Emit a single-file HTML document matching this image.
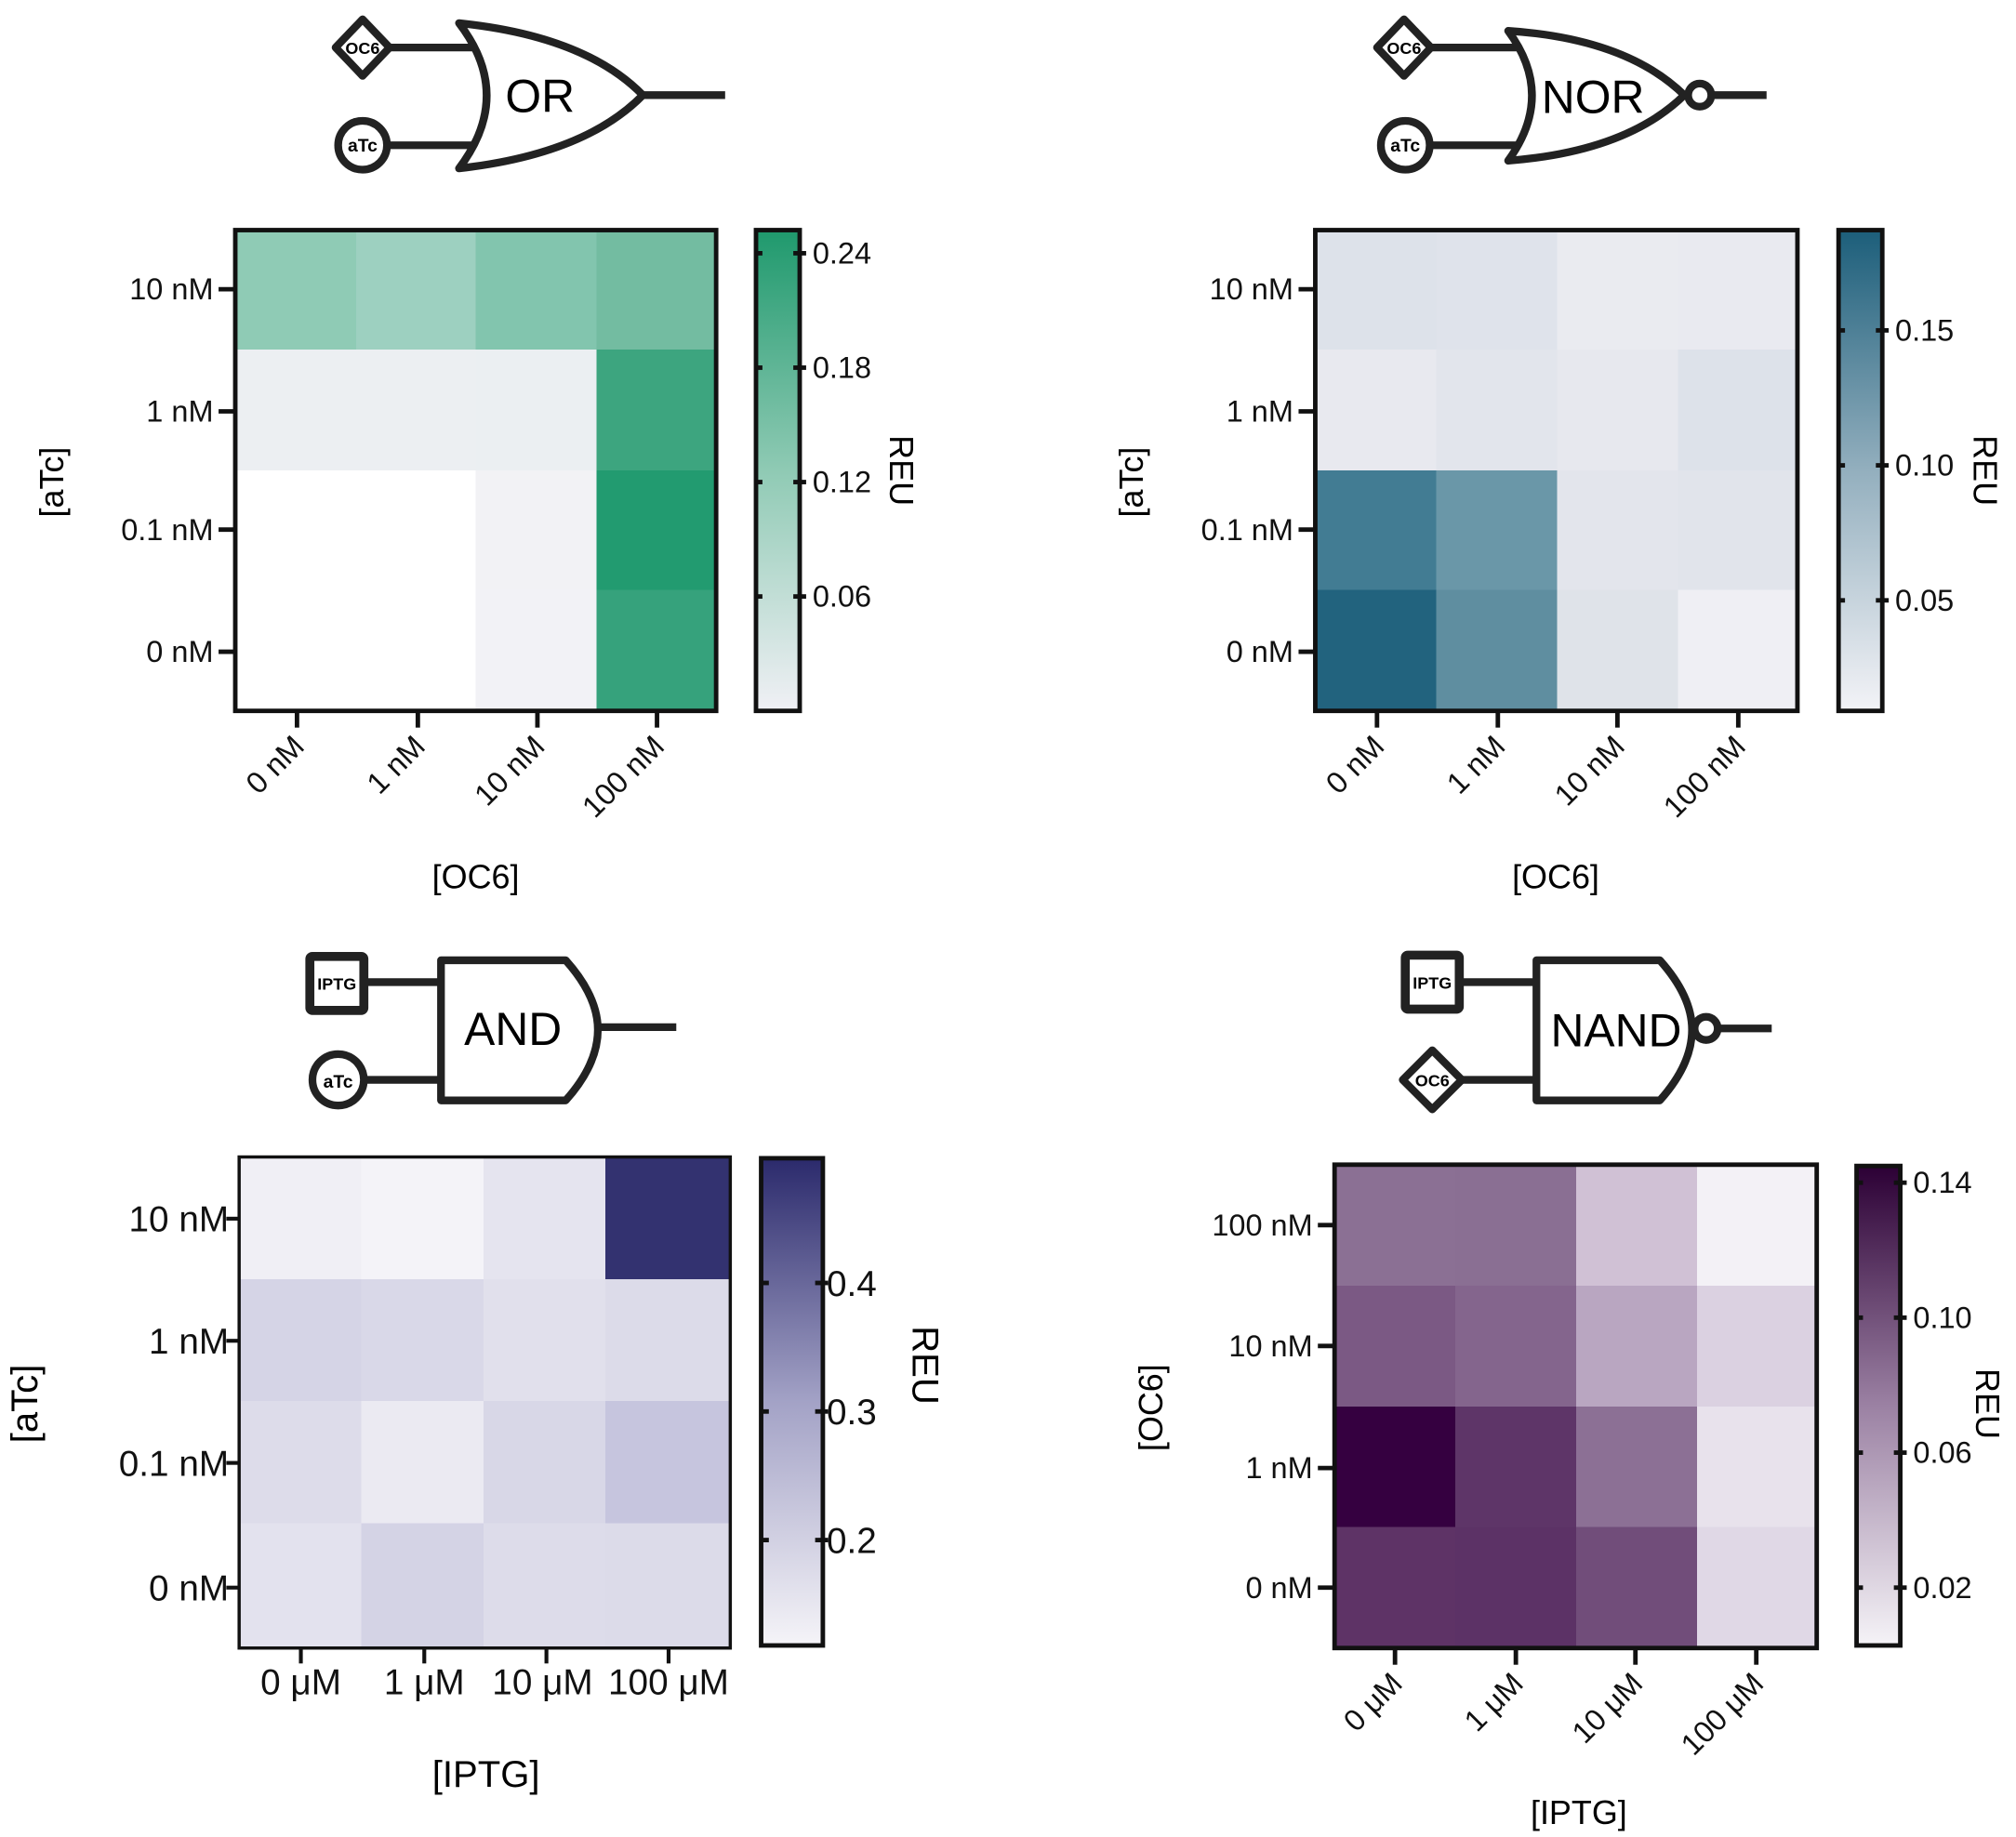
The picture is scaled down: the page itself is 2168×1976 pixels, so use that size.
<!DOCTYPE html>
<html><head><meta charset="utf-8"><style>html,body{margin:0;padding:0;background:#fff}svg{display:block}</style></head>
<body>
<svg width="2168" height="1976" viewBox="0 0 1568 1429" preserveAspectRatio="none" xmlns="http://www.w3.org/2000/svg" font-family="Liberation Sans, Arial, sans-serif">
<defs>
<linearGradient id="gOR" x1="0" y1="1" x2="0" y2="0"><stop offset="0" stop-color="#f0f0f5"/><stop offset="0.5" stop-color="#8fcab4"/><stop offset="1" stop-color="#1f996d"/></linearGradient>
<linearGradient id="gNOR" x1="0" y1="1" x2="0" y2="0"><stop offset="0" stop-color="#f3f3f7"/><stop offset="0.5" stop-color="#93afbe"/><stop offset="1" stop-color="#1c5e7a"/></linearGradient>
<linearGradient id="gAND" x1="0" y1="1" x2="0" y2="0"><stop offset="0" stop-color="#f5f4f8"/><stop offset="0.5" stop-color="#a3a2c6"/><stop offset="1" stop-color="#2b2a6c"/></linearGradient>
<linearGradient id="gNAND" x1="0" y1="1" x2="0" y2="0"><stop offset="0" stop-color="#f5f3f7"/><stop offset="0.5" stop-color="#9b81a3"/><stop offset="1" stop-color="#2c0035"/></linearGradient>
</defs>

<!-- ===== OR gate ===== -->
<g stroke="#222" stroke-width="6" fill="#fff" stroke-linejoin="round">
<line x1="300" y1="37" x2="372" y2="37"/><line x1="300" y1="113" x2="372" y2="113"/>
<path d="M357,18 Q400,74 357,131 Q455,120 500,74 Q455,28 357,18 Z"/>
<line x1="500" y1="74" x2="564" y2="74"/>
<path d="M282,15 L303,37 L282,59 L261,37 Z"/>
<circle cx="282" cy="113" r="19"/>
</g>
<text x="420" y="87" font-size="36" text-anchor="middle">OR</text>
<text x="282" y="42" font-size="13" font-weight="bold" text-anchor="middle">OC6</text>
<text x="282" y="118" font-size="14" font-weight="bold" text-anchor="middle">aTc</text>

<!-- OR heatmap -->
<g shape-rendering="crispEdges">
<rect x="183" y="179" width="94" height="94" fill="#8fcbb5"/><rect x="277" y="179" width="94" height="94" fill="#9dd0c0"/><rect x="370" y="179" width="94" height="94" fill="#82c5ae"/><rect x="464" y="179" width="94" height="94" fill="#73bca1"/>
<rect x="183" y="272" width="94" height="94" fill="#eceff2"/><rect x="277" y="272" width="94" height="94" fill="#eceff2"/><rect x="370" y="272" width="94" height="94" fill="#ebeff2"/><rect x="464" y="272" width="94" height="94" fill="#3da57f"/>
<rect x="183" y="366" width="94" height="94" fill="#ffffff"/><rect x="277" y="366" width="94" height="94" fill="#ffffff"/><rect x="370" y="366" width="94" height="94" fill="#f2f2f5"/><rect x="464" y="366" width="94" height="94" fill="#229b70"/>
<rect x="183" y="459" width="94" height="94" fill="#ffffff"/><rect x="277" y="459" width="94" height="94" fill="#ffffff"/><rect x="370" y="459" width="94" height="94" fill="#f2f2f6"/><rect x="464" y="459" width="94" height="94" fill="#36a27c"/>
</g>
<rect x="183" y="179" width="374" height="374" fill="none" stroke="#111" stroke-width="3.5"/>
<g stroke="#111" stroke-width="3.5">
<line x1="170" y1="225" x2="183" y2="225"/><line x1="170" y1="320" x2="183" y2="320"/><line x1="170" y1="412" x2="183" y2="412"/><line x1="170" y1="507" x2="183" y2="507"/>
<line x1="231" y1="553" x2="231" y2="566"/><line x1="325" y1="553" x2="325" y2="566"/><line x1="418" y1="553" x2="418" y2="566"/><line x1="511" y1="553" x2="511" y2="566"/>
</g>
<g font-size="23.5" text-anchor="end" fill="#111">
<text x="166" y="233">10 nM</text><text x="166" y="328">1 nM</text><text x="166" y="420">0.1 nM</text><text x="166" y="515">0 nM</text>
<text transform="translate(238,582) rotate(-45)">0 nM</text><text transform="translate(332,582) rotate(-45)">1 nM</text><text transform="translate(425,582) rotate(-45)">10 nM</text><text transform="translate(518,582) rotate(-45)">100 nM</text>
</g>
<text x="370" y="691" font-size="26" text-anchor="middle">[OC6]</text>
<text transform="translate(49,375) rotate(-90)" font-size="26" text-anchor="middle">[aTc]</text>
<rect x="588" y="179" width="34" height="374" fill="url(#gOR)" stroke="#111" stroke-width="3.5"/>
<g stroke="#111" stroke-width="3.5"><line x1="588" y1="197" x2="593" y2="197"/><line x1="617" y1="197" x2="627" y2="197"/><line x1="588" y1="286" x2="593" y2="286"/><line x1="617" y1="286" x2="627" y2="286"/><line x1="588" y1="375" x2="593" y2="375"/><line x1="617" y1="375" x2="627" y2="375"/><line x1="588" y1="464" x2="593" y2="464"/><line x1="617" y1="464" x2="627" y2="464"/></g>
<g font-size="23.5" fill="#111"><text x="632" y="205">0.24</text><text x="632" y="294">0.18</text><text x="632" y="383">0.12</text><text x="632" y="472">0.06</text></g>
<text transform="translate(692,366) rotate(90)" font-size="26" text-anchor="middle">REU</text>

<!-- ===== NOR gate ===== -->
<g stroke="#222" stroke-width="6" fill="#fff" stroke-linejoin="round">
<line x1="1110" y1="37" x2="1182" y2="37"/><line x1="1110" y1="113" x2="1182" y2="113"/>
<path d="M1173,24 Q1210,74 1173,125 Q1265,118 1310,74 Q1265,30 1173,24 Z"/>
<circle cx="1322" cy="74" r="9"/>
<line x1="1331" y1="74" x2="1374" y2="74"/>
<path d="M1092,15 L1113,37 L1092,59 L1071,37 Z"/>
<circle cx="1093" cy="113" r="19"/>
</g>
<text x="1239" y="88" font-size="36" text-anchor="middle">NOR</text>
<text x="1092" y="42" font-size="13" font-weight="bold" text-anchor="middle">OC6</text>
<text x="1093" y="118" font-size="14" font-weight="bold" text-anchor="middle">aTc</text>

<g shape-rendering="crispEdges">
<rect x="1023" y="179" width="95" height="94" fill="#dde2ea"/><rect x="1117" y="179" width="95" height="94" fill="#dfe3eb"/><rect x="1211" y="179" width="95" height="94" fill="#eaebf0"/><rect x="1305" y="179" width="94" height="94" fill="#e9eaf0"/>
<rect x="1023" y="272" width="95" height="94" fill="#e8e9ef"/><rect x="1117" y="272" width="95" height="94" fill="#e2e5ec"/><rect x="1211" y="272" width="95" height="94" fill="#e7e8ee"/><rect x="1305" y="272" width="94" height="94" fill="#dde2ea"/>
<rect x="1023" y="366" width="95" height="94" fill="#427c93"/><rect x="1117" y="366" width="95" height="94" fill="#6a97a8"/><rect x="1211" y="366" width="95" height="94" fill="#e3e5ec"/><rect x="1305" y="366" width="94" height="94" fill="#e1e4eb"/>
<rect x="1023" y="459" width="95" height="94" fill="#22637e"/><rect x="1117" y="459" width="95" height="94" fill="#5f8ea0"/><rect x="1211" y="459" width="95" height="94" fill="#dfe3e9"/><rect x="1305" y="459" width="94" height="94" fill="#efeff4"/>
</g>
<rect x="1023" y="179" width="375" height="374" fill="none" stroke="#111" stroke-width="3.5"/>
<g stroke="#111" stroke-width="3.5">
<line x1="1010" y1="225" x2="1023" y2="225"/><line x1="1010" y1="320" x2="1023" y2="320"/><line x1="1010" y1="412" x2="1023" y2="412"/><line x1="1010" y1="507" x2="1023" y2="507"/>
<line x1="1071" y1="553" x2="1071" y2="566"/><line x1="1165" y1="553" x2="1165" y2="566"/><line x1="1258" y1="553" x2="1258" y2="566"/><line x1="1352" y1="553" x2="1352" y2="566"/>
</g>
<g font-size="23.5" text-anchor="end" fill="#111">
<text x="1006" y="233">10 nM</text><text x="1006" y="328">1 nM</text><text x="1006" y="420">0.1 nM</text><text x="1006" y="515">0 nM</text>
<text transform="translate(1078,582) rotate(-45)">0 nM</text><text transform="translate(1172,582) rotate(-45)">1 nM</text><text transform="translate(1265,582) rotate(-45)">10 nM</text><text transform="translate(1359,582) rotate(-45)">100 nM</text>
</g>
<text x="1210" y="691" font-size="26" text-anchor="middle">[OC6]</text>
<text transform="translate(889,375) rotate(-90)" font-size="26" text-anchor="middle">[aTc]</text>
<rect x="1430" y="179" width="34" height="374" fill="url(#gNOR)" stroke="#111" stroke-width="3.5"/>
<g stroke="#111" stroke-width="3.5"><line x1="1430" y1="257" x2="1435" y2="257"/><line x1="1459" y1="257" x2="1469" y2="257"/><line x1="1430" y1="362" x2="1435" y2="362"/><line x1="1459" y1="362" x2="1469" y2="362"/><line x1="1430" y1="467" x2="1435" y2="467"/><line x1="1459" y1="467" x2="1469" y2="467"/></g>
<g font-size="23.5" fill="#111"><text x="1474" y="265">0.15</text><text x="1474" y="370">0.10</text><text x="1474" y="475">0.05</text></g>
<text transform="translate(1535,366) rotate(90)" font-size="26" text-anchor="middle">REU</text>

<!-- ===== AND gate ===== -->
<g stroke="#222" stroke-width="6" fill="#fff" stroke-linejoin="round">
<line x1="284" y1="764" x2="345" y2="764"/><line x1="284" y1="840" x2="345" y2="840"/>
<path d="M343,747 L440,747 Q465,775 465,801 Q465,828 440,856 L343,856 Z"/>
<line x1="465" y1="799" x2="526" y2="799"/>
<rect x="241" y="744" width="42" height="42" rx="2" stroke-width="7"/>
<circle cx="263" cy="840" r="20"/>
</g>
<text x="399" y="813" font-size="36" text-anchor="middle">AND</text>
<text x="262" y="770" font-size="13" font-weight="bold" text-anchor="middle">IPTG</text>
<text x="263" y="846" font-size="14" font-weight="bold" text-anchor="middle">aTc</text>

<g shape-rendering="crispEdges">
<rect x="186" y="900" width="96" height="96" fill="#f0eff5"/><rect x="281" y="900" width="96" height="96" fill="#f4f3f8"/><rect x="376" y="900" width="96" height="96" fill="#e5e4ef"/><rect x="471" y="900" width="97" height="96" fill="#333270"/>
<rect x="186" y="995" width="96" height="96" fill="#d5d4e6"/><rect x="281" y="995" width="96" height="96" fill="#d9d8e8"/><rect x="376" y="995" width="96" height="96" fill="#e1e0ec"/><rect x="471" y="995" width="97" height="96" fill="#dcdbe9"/>
<rect x="186" y="1090" width="96" height="96" fill="#dddcea"/><rect x="281" y="1090" width="96" height="96" fill="#ebeaf2"/><rect x="376" y="1090" width="96" height="96" fill="#d8d7e7"/><rect x="471" y="1090" width="97" height="96" fill="#c6c5de"/>
<rect x="186" y="1185" width="96" height="97" fill="#e3e2ee"/><rect x="281" y="1185" width="96" height="97" fill="#d4d3e5"/><rect x="376" y="1185" width="96" height="97" fill="#dddcea"/><rect x="471" y="1185" width="97" height="97" fill="#dcdbe9"/>
</g>
<rect x="186" y="900" width="382" height="382" fill="none" stroke="#111" stroke-width="2.5"/>
<g stroke="#111" stroke-width="3">
<line x1="176" y1="948" x2="186" y2="948"/><line x1="176" y1="1043" x2="186" y2="1043"/><line x1="176" y1="1138" x2="186" y2="1138"/><line x1="176" y1="1235" x2="186" y2="1235"/>
<line x1="234" y1="1282" x2="234" y2="1294"/><line x1="330" y1="1282" x2="330" y2="1294"/><line x1="425" y1="1282" x2="425" y2="1294"/><line x1="520" y1="1282" x2="520" y2="1294"/>
</g>
<g font-size="28" text-anchor="end" fill="#111">
<text x="178" y="958">10 nM</text><text x="178" y="1053">1 nM</text><text x="178" y="1148">0.1 nM</text><text x="178" y="1245">0 nM</text>
</g>
<g font-size="28" text-anchor="middle" fill="#111">
<text x="234" y="1318">0 μM</text><text x="330" y="1318">1 μM</text><text x="422" y="1318">10 μM</text><text x="520" y="1318">100 μM</text>
</g>
<text x="378" y="1390" font-size="29" text-anchor="middle">[IPTG]</text>
<text transform="translate(29,1092) rotate(-90)" font-size="29" text-anchor="middle">[aTc]</text>
<rect x="592" y="901" width="48" height="379" fill="url(#gAND)" stroke="#111" stroke-width="3.5"/>
<g stroke="#111" stroke-width="3.5"><line x1="592" y1="998" x2="598" y2="998"/><line x1="634" y1="998" x2="644" y2="998"/><line x1="592" y1="1098" x2="598" y2="1098"/><line x1="634" y1="1098" x2="644" y2="1098"/><line x1="592" y1="1198" x2="598" y2="1198"/><line x1="634" y1="1198" x2="644" y2="1198"/></g>
<g font-size="28" fill="#111"><text x="643" y="1008">0.4</text><text x="643" y="1108">0.3</text><text x="643" y="1208">0.2</text></g>
<text transform="translate(710,1062) rotate(90)" font-size="29" text-anchor="middle">REU</text>

<!-- ===== NAND gate ===== -->
<g stroke="#222" stroke-width="6" fill="#fff" stroke-linejoin="round">
<line x1="1136" y1="764" x2="1197" y2="764"/><line x1="1136" y1="840" x2="1197" y2="840"/>
<path d="M1195,747 L1291,747 Q1316,775 1316,801 Q1316,828 1291,856 L1195,856 Z"/>
<circle cx="1327" cy="800" r="9"/>
<line x1="1336" y1="800" x2="1378" y2="800"/>
<rect x="1093" y="743" width="42" height="42" rx="2" stroke-width="7"/>
<path d="M1114,817 L1137,840 L1114,863 L1091,840 Z"/>
</g>
<text x="1257" y="814" font-size="36" text-anchor="middle">NAND</text>
<text x="1114" y="769" font-size="13" font-weight="bold" text-anchor="middle">IPTG</text>
<text x="1114" y="845" font-size="13" font-weight="bold" text-anchor="middle">OC6</text>

<g shape-rendering="crispEdges">
<rect x="1038" y="906" width="95" height="95" fill="#8b7094"/><rect x="1132" y="906" width="95" height="95" fill="#8a6f93"/><rect x="1226" y="906" width="95" height="95" fill="#d0c1d5"/><rect x="1320" y="906" width="93" height="95" fill="#f3f1f6"/>
<rect x="1038" y="1000" width="95" height="95" fill="#7b5984"/><rect x="1132" y="1000" width="95" height="95" fill="#84658d"/><rect x="1226" y="1000" width="95" height="95" fill="#b9a6c1"/><rect x="1320" y="1000" width="93" height="95" fill="#dbd1e1"/>
<rect x="1038" y="1094" width="95" height="95" fill="#350040"/><rect x="1132" y="1094" width="95" height="95" fill="#5e3568"/><rect x="1226" y="1094" width="95" height="95" fill="#8c7095"/><rect x="1320" y="1094" width="93" height="95" fill="#e8e2ec"/>
<rect x="1038" y="1188" width="95" height="94" fill="#5e3366"/><rect x="1132" y="1188" width="95" height="94" fill="#5c3266"/><rect x="1226" y="1188" width="95" height="94" fill="#714d7a"/><rect x="1320" y="1188" width="93" height="94" fill="#e0d8e6"/>
</g>
<rect x="1038" y="906" width="375" height="376" fill="none" stroke="#111" stroke-width="3.5"/>
<g stroke="#111" stroke-width="3.5">
<line x1="1025" y1="953" x2="1038" y2="953"/><line x1="1025" y1="1047" x2="1038" y2="1047"/><line x1="1025" y1="1142" x2="1038" y2="1142"/><line x1="1025" y1="1235" x2="1038" y2="1235"/>
<line x1="1085" y1="1282" x2="1085" y2="1295"/><line x1="1179" y1="1282" x2="1179" y2="1295"/><line x1="1272" y1="1282" x2="1272" y2="1295"/><line x1="1366" y1="1282" x2="1366" y2="1295"/>
</g>
<g font-size="23.5" text-anchor="end" fill="#111">
<text x="1021" y="961">100 nM</text><text x="1021" y="1055">10 nM</text><text x="1021" y="1150">1 nM</text><text x="1021" y="1243">0 nM</text>
<text transform="translate(1092,1311) rotate(-45)">0 μM</text><text transform="translate(1186,1311) rotate(-45)">1 μM</text><text transform="translate(1279,1311) rotate(-45)">10 μM</text><text transform="translate(1373,1311) rotate(-45)">100 μM</text>
</g>
<text x="1228" y="1419" font-size="26" text-anchor="middle">[IPTG]</text>
<text transform="translate(904,1095) rotate(-90)" font-size="26" text-anchor="middle">[OC6]</text>
<rect x="1444" y="907" width="34" height="373" fill="url(#gNAND)" stroke="#111" stroke-width="3.5"/>
<g stroke="#111" stroke-width="3.5"><line x1="1444" y1="920" x2="1449" y2="920"/><line x1="1473" y1="920" x2="1483" y2="920"/><line x1="1444" y1="1025" x2="1449" y2="1025"/><line x1="1473" y1="1025" x2="1483" y2="1025"/><line x1="1444" y1="1130" x2="1449" y2="1130"/><line x1="1473" y1="1130" x2="1483" y2="1130"/><line x1="1444" y1="1235" x2="1449" y2="1235"/><line x1="1473" y1="1235" x2="1483" y2="1235"/></g>
<g font-size="23.5" fill="#111"><text x="1488" y="928">0.14</text><text x="1488" y="1033">0.10</text><text x="1488" y="1138">0.06</text><text x="1488" y="1243">0.02</text></g>
<text transform="translate(1537,1092) rotate(90)" font-size="26" text-anchor="middle">REU</text>
</svg>
</body></html>
